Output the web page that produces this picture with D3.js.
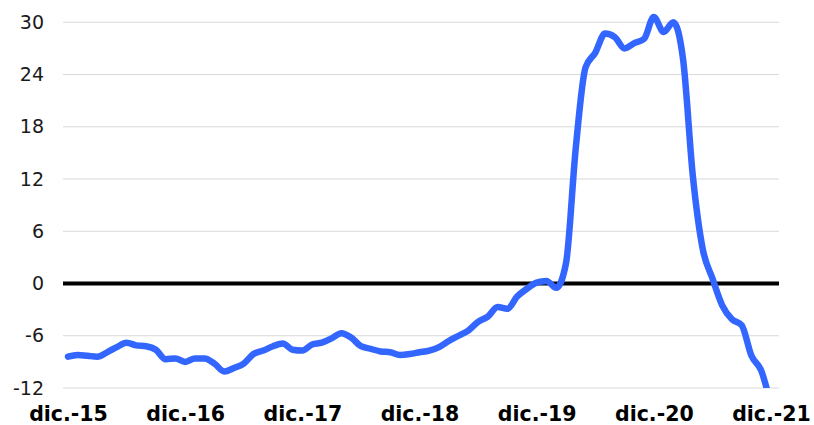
<!DOCTYPE html>
<html>
<head>
<meta charset="utf-8">
<script src="https://cdn.jsdelivr.net/npm/d3@7"></script>
<style>
  html, body { margin: 0; padding: 0; background: #fff; }
  svg { display: block; }
</style>
</head>
<body>
<svg id="chart" width="814" height="425"></svg>
<script>
// Monthly values, dic.-15 .. dic.-21
const values = [
  -8.4, -8.2, -8.3, -8.4, -7.9, -7.3, -6.8, -7.1, -7.2, -7.6, -8.7, -8.6,
  -9.0, -8.6, -8.6, -9.2, -10.1, -9.7, -9.2, -8.1, -7.7, -7.2, -6.9, -7.6,
  -7.7, -7.0, -6.8, -6.3, -5.7, -6.2, -7.2, -7.5, -7.8, -7.9, -8.2, -8.1,
  -7.9, -7.7, -7.3, -6.6, -6.0, -5.4, -4.4, -3.8, -2.7, -2.9, -1.5, -0.6,
  0.1, 0.3, -0.5, 2.3, 15.5, 24.8, 26.5, 28.7, 28.3, 27.0, 27.6, 28.1,
  30.6, 28.9, 30.0, 25.7, 12.3, 4.0, 0.6, -2.5, -4.1, -4.8, -8.3, -10.0,
  -14.0
];
const xTickLabels = ["dic.-15", "dic.-16", "dic.-17", "dic.-18", "dic.-19", "dic.-20", "dic.-21"];
const xTickIndex = [0, 12, 24, 36, 48, 60, 72];
const yTicks = [-12, -6, 0, 6, 12, 18, 24, 30];

const svg = d3.select("#chart");
const gridLeft = 63, gridRight = 779;
const x = d3.scaleLinear().domain([0, 72]).range([68, 771]);
const y = d3.scaleLinear().domain([-12, 30]).range([388, 22.3]);

// Gridlines
svg.append("g")
  .selectAll("line")
  .data(yTicks.filter(d => d !== 0))
  .join("line")
  .attr("x1", gridLeft).attr("x2", gridRight)
  .attr("y1", d => y(d)).attr("y2", d => y(d))
  .attr("stroke", "#d9d9d9").attr("stroke-width", 1);

// Y tick labels
const yAxis = d3.axisLeft(y).tickValues(yTicks).tickFormat(d => String(d)).tickSize(0).tickPadding(0);
const gy = svg.append("g").attr("transform", "translate(44,0)").call(yAxis);
gy.select(".domain").remove();
gy.selectAll("text")
  .attr("font-family", "'DejaVu Sans', Verdana, sans-serif")
  .attr("font-size", 19)
  .attr("fill", "#1a1a1a");

// Zero line
svg.append("line")
  .attr("x1", gridLeft).attr("x2", gridRight)
  .attr("y1", y(0)).attr("y2", y(0))
  .attr("stroke", "#000").attr("stroke-width", 4);

// X tick labels
const xAxis = d3.axisBottom(x).tickValues(xTickIndex)
  .tickFormat((d, i) => xTickLabels[i]).tickSize(0).tickPadding(0);
const gx = svg.append("g").attr("transform", "translate(0,406)").call(xAxis);
gx.select(".domain").remove();
gx.selectAll("text")
  .attr("font-family", "'DejaVu Sans', Verdana, sans-serif")
  .attr("font-size", 20.5)
  .attr("font-weight", "bold")
  .attr("fill", "#000");

// Clip
svg.append("defs").append("clipPath").attr("id", "clip")
  .append("rect").attr("x", 0).attr("y", 0).attr("width", 814).attr("height", 388);

const line = d3.line()
  .x((d, i) => x(i))
  .y(d => y(d))
  .curve(d3.curveMonotoneX);

svg.append("path")
  .datum(values)
  .attr("clip-path", "url(#clip)")
  .attr("d", line)
  .attr("fill", "none")
  .attr("stroke", "#3366ff")
  .attr("stroke-width", 6.5)
  .attr("stroke-linecap", "round")
  .attr("stroke-linejoin", "round");
</script>
</body>
</html>
